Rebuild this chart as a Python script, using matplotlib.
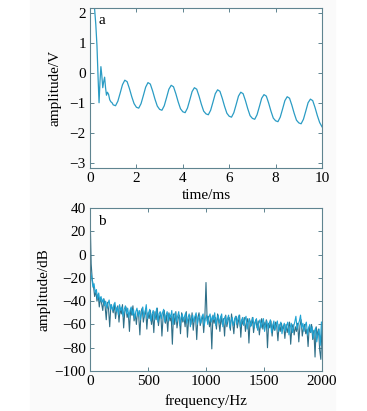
import numpy as np
import matplotlib
matplotlib.use("Agg")
import matplotlib.pyplot as plt
from matplotlib.patches import Rectangle

# panel a: time signal (ms, V)
t_start = [0.0, 0.1, 0.15, 0.2, 0.25, 0.3, 0.35, 0.39, 0.43, 0.47, 0.51, 0.55,
           0.59, 0.63, 0.67, 0.71, 0.75, 0.8, 0.85, 0.9, 0.95]
v_start = [2.4, 2.4, 2.3, 2.1, 1.6, 0.9, -0.2, -1.0, -0.3, 0.2, -0.1, -0.5,
           -0.3, -0.15, -0.5, -0.75, -0.65, -0.72, -0.9, -0.97, -1.0]
v_main = [  # 1.0 .. 10.0 ms, every 0.1 ms
    -1.07, -1.10, -0.95, -0.68, -0.40, -0.25, -0.30, -0.53, -0.80, -1.03,
    -1.15, -1.18, -1.03, -0.76, -0.48, -0.33, -0.38, -0.61, -0.88, -1.11,
    -1.22, -1.25, -1.10, -0.83, -0.55, -0.42, -0.47, -0.70, -0.97, -1.20,
    -1.30, -1.33, -1.18, -0.91, -0.63, -0.50, -0.55, -0.78, -1.05, -1.28,
    -1.37, -1.40, -1.25, -0.98, -0.70, -0.57, -0.62, -0.85, -1.12, -1.35,
    -1.45, -1.48, -1.33, -1.06, -0.78, -0.65, -0.70, -0.93, -1.20, -1.43,
    -1.52, -1.55, -1.40, -1.13, -0.85, -0.73, -0.78, -1.01, -1.28, -1.51,
    -1.60, -1.63, -1.48, -1.21, -0.93, -0.80, -0.85, -1.08, -1.35, -1.58,
    -1.67, -1.70, -1.55, -1.28, -1.00, -0.88, -0.93, -1.16, -1.43, -1.66,
    -1.80]

# panel b: spectrum (dB), dark trace every 10 Hz from 0, light trace every 10 Hz from 5
spec_dark = [
    38, -8, -22, -27, -36, -31, -40, -34, -45, -37,
    -42, -48, -38, -44, -56, -41, -47, -62, -43, -46,
    -50, -42, -55, -47, -44, -58, -46, -51, -43, -63,
    -49, -45, -54, -50, -66, -47, -52, -44, -57, -51,
    -60, -48, -53, -69, -49, -46, -58, -52, -47, -64,
    -50, -55, -48, -60, -51, -67, -49, -56, -46, -61,
    -53, -50, -70, -54, -48, -59, -52, -66, -50, -57,
    -53, -77, -51, -60, -49, -63, -55, -52, -68, -50,
    -58, -54, -62, -49, -71, -56, -52, -60, -50, -65,
    -55, -53, -73, -54, -50, -61, -56, -52, -67, -54,
    -24, -57, -53, -62, -55, -81, -52, -59, -54, -64,
    -51, -58, -66, -53, -60, -55, -70, -52, -62, -56,
    -54, -65, -51, -59, -68, -55, -53, -63, -57, -52,
    -71, -56, -60, -54, -66, -58, -55, -76, -57, -61,
    -54, -67, -59, -56, -63, -57, -69, -60, -55, -64,
    -58, -62, -56, -80, -59, -63, -57, -70, -60, -65,
    -58, -62, -74, -60, -66, -59, -64, -61, -72, -60,
    -67, -62, -58, -77, -63, -60, -69, -62, -66, -59,
    -75, -61, -56, -70, -63, -60, -68, -64, -79, -62,
    -67, -60, -73, -65, -88, -62, -70, -64, -82, -90,
    -60]
spec_light = [
    -15, -20, -28, -25, -33, -30, -38, -33, -40, -36,
    -41, -38, -44, -40, -46, -42, -39, -47, -43, -48,
    -44, -41, -49, -45, -52, -43, -48, -45, -53, -47,
    -44, -51, -46, -54, -48, -45, -52, -47, -55, -49,
    -46, -53, -48, -56, -50, -45, -54, -49, -43, -55,
    -50, -47, -57, -51, -48, -56, -52, -46, -58, -51,
    -49, -55, -50, -47, -58, -52, -49, -57, -51, -54,
    -48, -60, -52, -50, -58, -53, -49, -61, -54, -51,
    -57, -53, -50, -59, -54, -51, -62, -55, -52, -58,
    -53, -50, -60, -55, -52, -59, -54, -51, -61, -55,
    -52, -60, -54, -51, -58, -53, -56, -50, -61, -55,
    -52, -59, -54, -51, -62, -56, -53, -60, -55, -52,
    -63, -57, -54, -61, -56, -53, -60, -55, -52, -62,
    -57, -54, -61, -56, -53, -64, -58, -55, -62, -57,
    -54, -63, -58, -55, -65, -59, -56, -63, -58, -55,
    -66, -60, -57, -64, -59, -56, -67, -61, -57, -65,
    -60, -57, -66, -61, -58, -68, -62, -59, -66, -61,
    -58, -69, -63, -59, -67, -62, -58, -53, -64, -60,
    -57, -52, -63, -59, -66, -61, -58, -69, -63, -60,
    -67, -62, -72, -66, -63, -75, -68, -64, -78, -58]

t_main = np.round(np.arange(len(v_main)) * 0.1 + 1.0, 2)
time = np.concatenate([t_start, t_main])
volt = np.concatenate([v_start, v_main])
f_dark = np.linspace(0, 2000, len(spec_dark))
f_light = np.linspace(5, 1995, len(spec_light))

plt.rcParams['font.family'] = 'Liberation Serif'
plt.rcParams['font.size'] = 11
spine_col = '#5f8490'

fig = plt.figure(figsize=(3.67, 4.11), dpi=100)
fig.patches.append(Rectangle((30 / 367, 0), 305 / 367, 1, transform=fig.transFigure,
                             color='#fafafa', zorder=-10))

ax1 = fig.add_axes([90 / 367, 1 - 168 / 411, 232 / 367, 160 / 411])
ax2 = fig.add_axes([90 / 367, 1 - 371 / 411, 232 / 367, 163 / 411])

ax1.plot(time, volt, color='#2b9cc4', lw=0.9)
ax1.set_xlim(0, 10)
ax1.set_ylim(-3.17, 2.15)
ax1.set_xticks(range(0, 11, 2))
ax1.set_yticks(range(-3, 3))
ax1.set_yticklabels(['\u22123', '\u22122', '\u22121', '0', '1', '2'])
ax1.set_xlabel('time/ms', labelpad=3)
ax1.set_ylabel('amplitude/V', labelpad=6)
ax1.text(0.035, 0.92, 'a', transform=ax1.transAxes, ha='left', va='center')

ax2.plot(f_dark, spec_dark, color='#2f6f88', lw=0.8)
ax2.plot(f_light, spec_light, color='#1fa3d3', lw=0.8)
ax2.set_xlim(0, 2000)
ax2.set_ylim(-100, 40)
ax2.set_xticks(range(0, 2001, 500))
ax2.set_yticks(range(-100, 41, 20))
ax2.set_yticklabels([('\u2212' + str(-v)) if v < 0 else str(v) for v in range(-100, 41, 20)])
ax2.set_xlabel('frequency/Hz', labelpad=4)
ax2.set_ylabel('amplitude/dB', labelpad=3)
ax2.text(0.035, 0.92, 'b', transform=ax2.transAxes, ha='left', va='center')

for ax in (ax1, ax2):
    ax.set_facecolor('white')
    for s in ax.spines.values():
        s.set_color(spine_col)
        s.set_linewidth(0.8)
    ax.tick_params(direction='in', length=3, width=0.7, color=spine_col,
                   top=True, right=True, pad=3, labelsize=11)

fig.savefig('out.png', dpi=100)
